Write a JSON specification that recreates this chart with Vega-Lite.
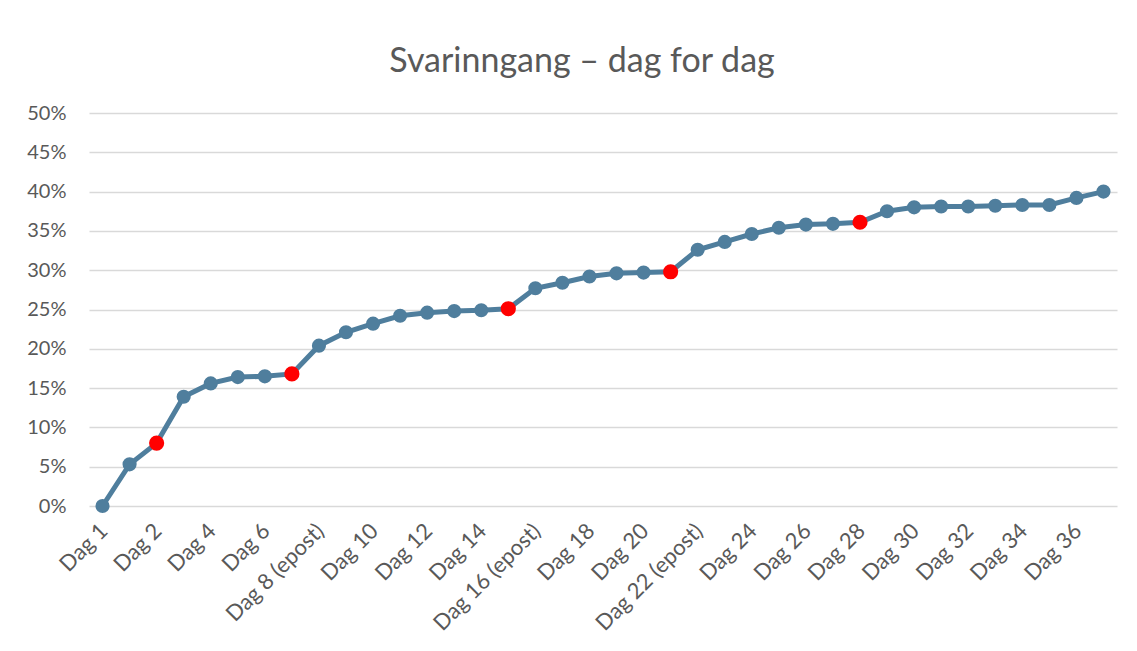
{
  "$schema": "https://vega.github.io/schema/vega-lite/v6.json",
  "width": 1028,
  "height": 393,
  "autosize": {"type": "none"},
  "padding": {"left": 89, "top": 113, "right": 20, "bottom": 145},
  "background": "white",
  "title": {
    "text": "Svarinngang – dag for dag",
    "font": "Lato",
    "fontSize": 34,
    "fontWeight": "normal",
    "color": "#595959",
    "anchor": "middle",
    "baseline": "alphabetic",
    "offset": 41,
    "dx": -21,
    "dy": 44
  },
  "config": {
    "view": {"stroke": null},
    "axis": {"labelFont": "Lato", "labelColor": "#595959"}
  },
  "data": {
    "values": [
      {"dag": "Dag 1", "andel": 0.000, "purring": "nei"},
      {"dag": "Dag 1 (2)", "andel": 0.053, "purring": "nei"},
      {"dag": "Dag 2", "andel": 0.080, "purring": "ja"},
      {"dag": "Dag 3", "andel": 0.139, "purring": "nei"},
      {"dag": "Dag 4", "andel": 0.156, "purring": "nei"},
      {"dag": "Dag 5", "andel": 0.164, "purring": "nei"},
      {"dag": "Dag 6", "andel": 0.165, "purring": "nei"},
      {"dag": "Dag 7", "andel": 0.168, "purring": "ja"},
      {"dag": "Dag 8 (epost)", "andel": 0.204, "purring": "nei"},
      {"dag": "Dag 9", "andel": 0.221, "purring": "nei"},
      {"dag": "Dag 10", "andel": 0.232, "purring": "nei"},
      {"dag": "Dag 11", "andel": 0.242, "purring": "nei"},
      {"dag": "Dag 12", "andel": 0.246, "purring": "nei"},
      {"dag": "Dag 13", "andel": 0.248, "purring": "nei"},
      {"dag": "Dag 14", "andel": 0.249, "purring": "nei"},
      {"dag": "Dag 15", "andel": 0.251, "purring": "ja"},
      {"dag": "Dag 16 (epost)", "andel": 0.277, "purring": "nei"},
      {"dag": "Dag 17", "andel": 0.284, "purring": "nei"},
      {"dag": "Dag 18", "andel": 0.292, "purring": "nei"},
      {"dag": "Dag 19", "andel": 0.296, "purring": "nei"},
      {"dag": "Dag 20", "andel": 0.297, "purring": "nei"},
      {"dag": "Dag 21", "andel": 0.298, "purring": "ja"},
      {"dag": "Dag 22 (epost)", "andel": 0.326, "purring": "nei"},
      {"dag": "Dag 23", "andel": 0.336, "purring": "nei"},
      {"dag": "Dag 24", "andel": 0.346, "purring": "nei"},
      {"dag": "Dag 25", "andel": 0.354, "purring": "nei"},
      {"dag": "Dag 26", "andel": 0.358, "purring": "nei"},
      {"dag": "Dag 27", "andel": 0.359, "purring": "nei"},
      {"dag": "Dag 28", "andel": 0.361, "purring": "ja"},
      {"dag": "Dag 29", "andel": 0.375, "purring": "nei"},
      {"dag": "Dag 30", "andel": 0.380, "purring": "nei"},
      {"dag": "Dag 31", "andel": 0.381, "purring": "nei"},
      {"dag": "Dag 32", "andel": 0.381, "purring": "nei"},
      {"dag": "Dag 33", "andel": 0.382, "purring": "nei"},
      {"dag": "Dag 34", "andel": 0.383, "purring": "nei"},
      {"dag": "Dag 35", "andel": 0.383, "purring": "nei"},
      {"dag": "Dag 36", "andel": 0.392, "purring": "nei"},
      {"dag": "Dag 37", "andel": 0.400, "purring": "nei"}
    ]
  },
  "encoding": {
    "x": {
      "field": "dag",
      "type": "ordinal",
      "sort": null,
      "scale": {"type": "point", "padding": 0.5},
      "axis": {
        "title": null,
        "values": ["Dag 1", "Dag 2", "Dag 4", "Dag 6", "Dag 8 (epost)", "Dag 10", "Dag 12", "Dag 14", "Dag 16 (epost)", "Dag 18", "Dag 20", "Dag 22 (epost)", "Dag 24", "Dag 26", "Dag 28", "Dag 30", "Dag 32", "Dag 34", "Dag 36"],
        "labelAngle": -45,
        "labelFontSize": 22,
        "labelPadding": 14,
        "labelOffset": -6,
        "ticks": false,
        "tickSize": 0,
        "domain": false,
        "grid": false,
        "labelOverlap": false
      }
    },
    "y": {
      "field": "andel",
      "type": "quantitative",
      "scale": {"domain": [0, 0.5], "nice": false},
      "axis": {
        "title": null,
        "format": ".0%",
        "values": [0, 0.05, 0.1, 0.15, 0.2, 0.25, 0.3, 0.35, 0.4, 0.45, 0.5],
        "labelFontSize": 20,
        "labelPadding": 23,
        "ticks": false,
        "tickSize": 0,
        "domain": false,
        "grid": true,
        "gridColor": "#D9D9D9",
        "gridWidth": 1.4
      }
    }
  },
  "layer": [
    {
      "mark": {"type": "line", "color": "#4F7E9D", "strokeWidth": 5}
    },
    {
      "mark": {"type": "circle", "opacity": 1},
      "encoding": {
        "color": {
          "field": "purring",
          "type": "nominal",
          "scale": {"domain": ["nei", "ja"], "range": ["#4F7E9D", "#FF0000"]},
          "legend": null
        },
        "size": {
          "field": "purring",
          "type": "nominal",
          "scale": {"domain": ["nei", "ja"], "range": [200, 230]},
          "legend": null
        }
      }
    }
  ]
}
